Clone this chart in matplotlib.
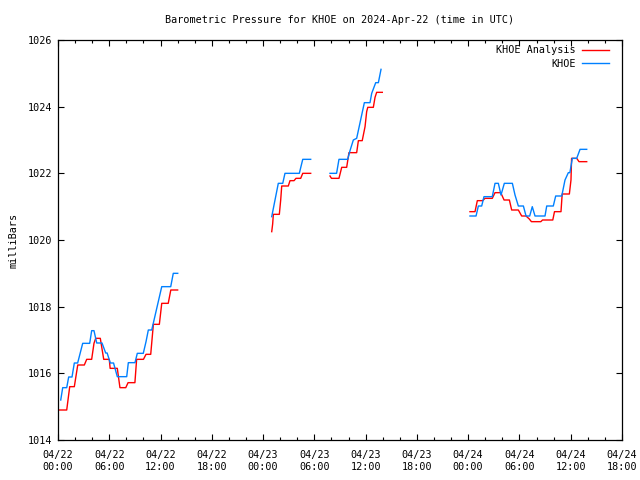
import matplotlib
matplotlib.use("Agg")
import matplotlib.pyplot as plt
import numpy as np


# hours after 04/22 00:00 UTC, pressure in mb
obs_hours = [
    [0.32, 0.55, 1.02, 1.25, 1.64, 1.91, 2.3, 2.89, 3.71, 3.94, 4.21, 4.53, 5.15, 5.58,
     5.75, 6.12, 6.5, 6.94, 8.04, 8.23, 9.01, 9.28, 9.98, 10.3, 10.57, 10.97, 12.14,
     13.19, 13.49, 14.01],
    [25.01, 25.78, 26.3, 26.56, 28.24, 28.64, 29.57],
    [31.83, 32.6, 32.88, 33.9, 34.17, 34.56, 34.95, 35.85, 36.51, 36.71, 37.18, 37.49, 37.8],
    [48.21, 48.92, 49.19, 49.58, 49.85, 50.82, 51.14, 51.53, 51.84, 52.23, 53.17, 53.48,
     53.87, 54.46, 54.77, 55.2, 55.5, 55.82, 56.99, 57.19, 57.96, 58.24, 58.95, 59.33,
     59.72, 59.9, 60.19, 60.7, 61.09, 61.87],
]
obs_mb = [
    [1015.2, 1015.57, 1015.57, 1015.89, 1015.89, 1016.31, 1016.31, 1016.9, 1016.9, 1017.28,
     1017.28, 1016.91, 1016.91, 1016.61, 1016.61, 1016.31, 1016.31, 1015.9, 1015.9, 1016.32,
     1016.32, 1016.6, 1016.6, 1016.95, 1017.3, 1017.3, 1018.6, 1018.6, 1019.0, 1019.0],
    [1020.7, 1021.7, 1021.7, 1022.0, 1022.0, 1022.42, 1022.42],
    [1022.0, 1022.0, 1022.42, 1022.42, 1022.68, 1023.0, 1023.05, 1024.12, 1024.12, 1024.4,
     1024.72, 1024.72, 1025.12],
    [1020.72, 1020.72, 1021.02, 1021.02, 1021.3, 1021.3, 1021.7, 1021.7, 1021.35, 1021.7,
     1021.7, 1021.35, 1021.02, 1021.02, 1020.72, 1020.72, 1021.0, 1020.72, 1020.72, 1021.02,
     1021.02, 1021.32, 1021.32, 1021.8, 1022.02, 1022.02, 1022.45, 1022.45, 1022.72, 1022.72],
]

ana_hours = [
    [0.05, 1.02, 1.37, 1.91, 2.31, 3.08, 3.36, 3.94, 4.21, 4.41, 4.95, 5.35, 6.0, 6.1, 6.94,
     7.25, 7.93, 8.2, 9.0, 9.2, 10.0, 10.3, 10.85, 11.16, 11.86, 12.14, 12.9, 13.2, 14.0],
    [25.01, 25.12, 25.2, 25.9, 26.06, 26.18, 26.95, 27.15, 27.62, 27.85, 28.4, 28.64, 29.57],
    [31.83, 32.0, 32.88, 33.2, 33.78, 34.05, 34.95, 35.15, 35.6, 35.93, 36.12, 36.25, 36.9,
     37.1, 37.29, 37.95],
    [48.21, 48.8, 49.07, 49.69, 49.97, 50.82, 51.14, 51.81, 52.2, 52.82, 53.09, 53.87, 54.26,
     54.77, 55.15, 55.4, 56.5, 56.7, 57.9, 58.1, 58.86, 59.0, 59.84, 60.03, 60.1, 60.7,
     60.97, 61.87],
]
ana_mb = [
    [1014.9, 1014.9, 1015.6, 1015.6, 1016.25, 1016.25, 1016.42, 1016.42, 1016.9, 1017.05,
     1017.05, 1016.42, 1016.42, 1016.15, 1016.15, 1015.57, 1015.57, 1015.72, 1015.72,
     1016.42, 1016.42, 1016.57, 1016.57, 1017.47, 1017.47, 1018.1, 1018.1, 1018.5, 1018.5],
    [1020.25, 1020.48, 1020.77, 1020.77, 1021.2, 1021.62, 1021.62, 1021.78, 1021.78,
     1021.85, 1021.85, 1022.0, 1022.0],
    [1021.92, 1021.85, 1021.85, 1022.18, 1022.18, 1022.62, 1022.62, 1022.98, 1022.98,
     1023.4, 1023.85, 1023.98, 1023.98, 1024.28, 1024.43, 1024.43],
    [1020.85, 1020.85, 1021.18, 1021.18, 1021.25, 1021.25, 1021.42, 1021.42, 1021.2, 1021.2,
     1020.9, 1020.9, 1020.72, 1020.72, 1020.63, 1020.55, 1020.55, 1020.6, 1020.6, 1020.85,
     1020.85, 1021.38, 1021.38, 1021.8, 1022.45, 1022.45, 1022.35, 1022.35],
]

tick_hours = list(range(0, 67, 6))
tick_labels = ["04/22\n00:00", "04/22\n06:00", "04/22\n12:00", "04/22\n18:00",
               "04/23\n00:00", "04/23\n06:00", "04/23\n12:00", "04/23\n18:00",
               "04/24\n00:00", "04/24\n06:00", "04/24\n12:00", "04/24\n18:00"]

plt.rcParams['font.family'] = 'DejaVu Sans Mono'
plt.rcParams['font.size'] = 7.3

fig = plt.figure(figsize=(6.4, 4.8), dpi=100)
ax = fig.add_axes([58 / 640, 40 / 480, 564 / 640, 400 / 480])

for i, (h, v) in enumerate(zip(ana_hours, ana_mb)):
    ax.plot(h, v, color='#ff0000', lw=1.0, label='KHOE Analysis' if i == 0 else None)
for i, (h, v) in enumerate(zip(obs_hours, obs_mb)):
    ax.plot(h, v, color='#0080ff', lw=1.0, label='KHOE' if i == 0 else None)

ax.set_xlim(0, 66)
ax.set_ylim(1014, 1026)
ax.set_xticks(tick_hours)
ax.set_xticklabels(tick_labels, linespacing=1.25)
ax.set_xticks(np.arange(0, 67, 2), minor=True)
ax.set_yticks(np.arange(1014, 1027, 2))
ax.tick_params(which='both', direction='in', top=True, right=True, width=0.8)
ax.tick_params(which='major', length=4)
ax.tick_params(axis='x', which='major', pad=7)
ax.tick_params(axis='y', which='major', pad=4)
ax.tick_params(which='minor', length=2.5)
for s in ax.spines.values():
    s.set_linewidth(0.9)

ax.set_title("Barometric Pressure for KHOE on 2024-Apr-22 (time in UTC)", fontsize=7.3, pad=12)
ax.set_ylabel("milliBars", labelpad=7)

ax.legend(loc='upper right', bbox_to_anchor=(0.99, 1.004), frameon=False, markerfirst=False,
          handlelength=2.7, handletextpad=0.6, labelspacing=0.3, borderaxespad=0.3)

fig.savefig("out.png", dpi=100)
